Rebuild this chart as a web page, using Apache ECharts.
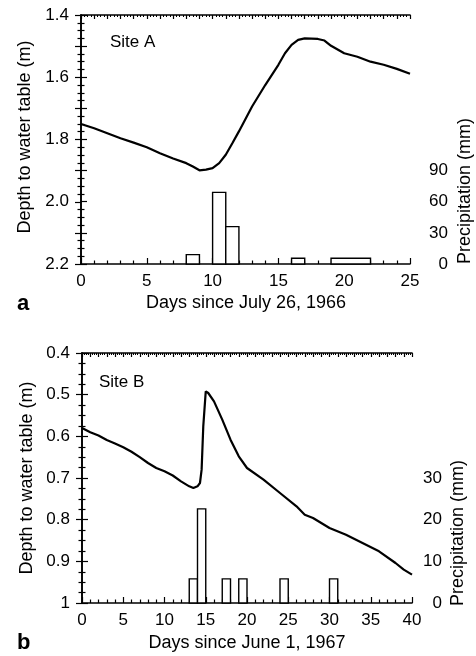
<!DOCTYPE html>
<html>
<head>
<meta charset="utf-8">
<script src="https://cdn.jsdelivr.net/npm/echarts@6/dist/echarts.min.js"></script>
<style>html,body{margin:0;padding:0;background:#fff;}#c{width:476px;height:656px;}</style>
</head>
<body>
<div id="c"></div>
<script>
// Panel a: Site A
const daysA = [0,1,2,3,4,5,6,7,8,8.5,9,9.5,10,10.5,11,11.5,12,13,14,15,15.5,16,16.5,17,18,18.5,19,20,21,22,23,24,25];
const depthA = [1.750,1.764,1.780,1.796,1.810,1.825,1.844,1.861,1.876,1.887,1.899,1.897,1.892,1.876,1.849,1.812,1.774,1.694,1.625,1.560,1.523,1.496,1.480,1.475,1.477,1.482,1.499,1.523,1.534,1.550,1.560,1.573,1.589];
const precipStartA = [8,10,11,16,19];
const precipEndA = [9,11,12,17,22];
const precipA = [9,69,36,5.5,5.5];
const xTicksA = [0,5,10,15,20,25];
const depthTicksA = ['1.4','1.6','1.8','2.0','2.2'];
const precipTicksA = [0,30,60,90];

// Panel b: Site B
const daysB = [0,1,2,3,4,5,6,7,8,9,10,11,12,13,13.5,14,14.3,14.5,14.7,15,15.3,16,17,18,19,20,22,24,26,27,28,30,32,34,36,38,39,40];
const depthB = [0.580,0.590,0.598,0.609,0.617,0.626,0.637,0.650,0.664,0.676,0.684,0.694,0.708,0.720,0.724,0.720,0.712,0.680,0.576,0.492,0.496,0.516,0.560,0.608,0.648,0.676,0.704,0.736,0.768,0.788,0.796,0.820,0.836,0.856,0.876,0.904,0.920,0.932];
const precipStartB = [13,14,17,19,24,30];
const precipEndB = [14,15,18,20,25,31];
const precipB = [5.8,22.6,5.8,5.8,5.8,5.8];
const xTicksB = [0,5,10,15,20,25,30,35,40];
const depthTicksB = ['0.4','0.5','0.6','0.7','0.8','0.9','1'];
const precipTicksB = [0,10,20,30];

const FONT = 'Liberation Sans, Arial, Helvetica, sans-serif';
const chart = echarts.init(document.getElementById('c'), null, {renderer: 'canvas'});

const lineAx = {show: true, lineStyle: {color: '#000', width: 1.6}};
function bottomX(grid, max) {
  return {type: 'value', gridIndex: grid, position: 'bottom', min: 0, max: max, interval: 5,
    axisLine: lineAx, splitLine: {show: false},
    axisTick: {inside: true, length: 6, lineStyle: {color: '#000', width: 1.2}},
    minorTick: {show: true, splitNumber: 5, length: 3.5, lineStyle: {color: '#000', width: 1.2}},
    axisLabel: {color: '#000', fontSize: 17, fontFamily: FONT, margin: 9}};
}
function topX(grid, max) {
  return {type: 'value', gridIndex: grid, position: 'top', min: 0, max: max, interval: 1,
    axisLine: lineAx, splitLine: {show: false},
    axisTick: {inside: true, length: 4, lineStyle: {color: '#000', width: 1.2}},
    minorTick: {show: true, splitNumber: 4, length: 2, lineStyle: {color: '#000', width: 1}},
    axisLabel: {show: false}};
}
function leftY(grid, min, max, labels) {
  return {type: 'value', gridIndex: grid, position: 'left', inverse: true, min: min, max: max, interval: 0.1,
    axisLine: lineAx, splitLine: {show: false},
    axisTick: {inside: true, length: 6, lineStyle: {color: '#000', width: 1.2}},
    minorTick: {show: true, splitNumber: 4, length: 3.5, lineStyle: {color: '#000', width: 1.2}},
    axisLabel: {color: '#000', fontSize: 17, fontFamily: FONT, margin: 12,
      formatter: function (v) {
        const s = (Math.round(v * 10) / 10).toFixed(1);
        for (const l of labels) { if (parseFloat(l).toFixed(1) === s) return l; }
        return '';
      }}};
}
function rightY(grid, max, interval, labels, margin) {
  return {type: 'value', gridIndex: grid, position: 'right', min: 0, max: max, interval: interval,
    axisLine: lineAx, splitLine: {show: false},
    axisTick: {inside: true, length: 6, lineStyle: {color: '#000', width: 1.2}},
    minorTick: {show: true, splitNumber: 4, length: 3.5, lineStyle: {color: '#000', width: 1.2}},
    axisLabel: {color: '#000', fontSize: 17, fontFamily: FONT, margin: margin, align: 'right',
      formatter: function (v) { return labels.indexOf(Math.round(v)) >= 0 ? String(Math.round(v)) : ''; }}};
}

function barRender(params, api) {
  const x0 = api.value(0), x1 = api.value(1), v = api.value(2);
  const p0 = api.coord([x0, v]);
  const p1 = api.coord([x1, 0]);
  return {type: 'rect', shape: {x: p0[0], y: p0[1], width: p1[0] - p0[0], height: p1[1] - p0[1]},
    style: {fill: '#fff', stroke: '#000', lineWidth: 1.4}};
}

const barsA = precipStartA.map((s, i) => [s, precipEndA[i], precipA[i]]);
const barsB = precipStartB.map((s, i) => [s, precipEndB[i], precipB[i]]);

function txt(text, x, y, size, rot, bold, align) {
  return {type: 'text', x: x, y: y, rotation: rot || 0, z: 100,
    style: {text: text, font: (bold ? 'bold ' : '') + size + 'px ' + FONT, fill: '#000',
      textAlign: align || 'center', textVerticalAlign: 'middle', align: align || 'center', verticalAlign: 'middle'}};
}

chart.setOption({
  animation: false,
  backgroundColor: '#fff',
  grid: [{left: 81, top: 15, width: 329, height: 249}, {left: 82, top: 353, width: 330, height: 250}],
  xAxis: [bottomX(0, 25), topX(0, 25), bottomX(1, 40), topX(1, 40)],
  yAxis: [leftY(0, 1.4, 2.2, depthTicksA), rightY(0, 240, 30, precipTicksA, 38),
          leftY(1, 0.4, 1.0, depthTicksB), rightY(1, 60, 10, precipTicksB, 30)],
  series: [
    {type: 'custom', xAxisIndex: 0, yAxisIndex: 1, renderItem: barRender, data: barsA, encode: {x: [0, 1], y: 2}, z: 2},
    {type: 'line', xAxisIndex: 0, yAxisIndex: 0, data: daysA.map((d, i) => [d, depthA[i]]),
      showSymbol: false, symbol: 'none', lineStyle: {color: '#000', width: 2.2}, z: 3},
    {type: 'custom', xAxisIndex: 2, yAxisIndex: 3, renderItem: barRender, data: barsB, encode: {x: [0, 1], y: 2}, z: 2},
    {type: 'line', xAxisIndex: 2, yAxisIndex: 2, data: daysB.map((d, i) => [d, depthB[i]]),
      showSymbol: false, symbol: 'none', lineStyle: {color: '#000', width: 2.2}, z: 3}
  ],
  graphic: [
    txt('Site A', 110, 42, 17, 0, false, 'left'),
    txt('Depth to water table (m)', 25, 137, 18, Math.PI / 2),
    txt('Precipitation (mm)', 465, 191, 18, Math.PI / 2),
    txt('Days since July 26, 1966', 246, 303, 18),
    txt('a', 17, 304, 22, 0, true, 'left'),
    txt('Site B', 99, 382, 17, 0, false, 'left'),
    txt('Depth to water table (m)', 27, 478, 18, Math.PI / 2),
    txt('Precipitation (mm)', 458, 533, 18, Math.PI / 2),
    txt('Days since June 1, 1967', 247, 643, 18),
    txt('b', 17, 643, 22, 0, true, 'left')
  ]
});
</script>
</body>
</html>
